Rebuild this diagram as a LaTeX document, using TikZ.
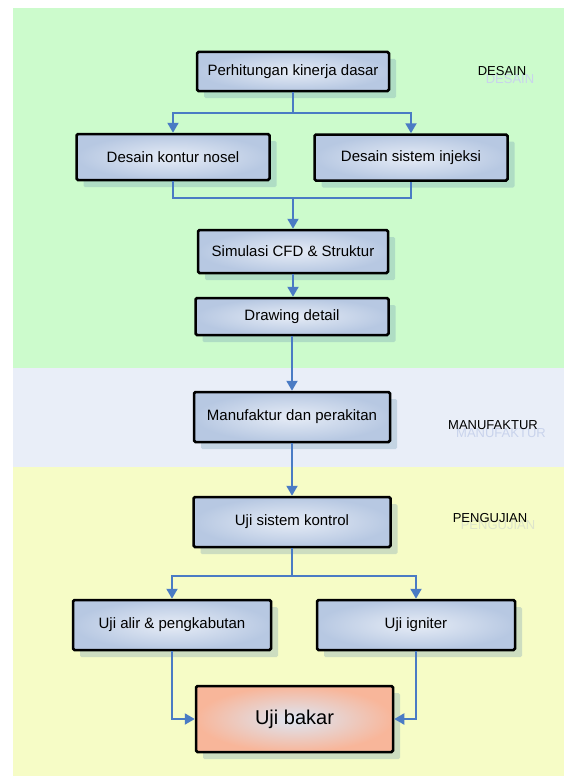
\documentclass[tikz,border=0pt]{standalone}
\usepackage{fontspec}
\setmainfont{Liberation Sans}
\usetikzlibrary{arrows.meta,shadows}
\definecolor{bandgreen}{HTML}{CCFBCC}
\definecolor{bandblue}{HTML}{E9EEF8}
\definecolor{bandyellow}{HTML}{F6FCC6}
\definecolor{boxblue}{HTML}{B7C8E2}
\definecolor{boxlight}{HTML}{E6ECF6}
\definecolor{boxsalmon}{HTML}{F8B69A}
\definecolor{salmonlight}{HTML}{DCE6F4}
\definecolor{linkblue}{HTML}{4A7BC4}
\definecolor{shadowc}{HTML}{6F98B4}
\definecolor{lblshadow}{HTML}{C9D3EC}
\definecolor{lblshadowy}{HTML}{DDE4CC}
\tikzset{
  x=1pt,y=-1pt,
  stepbox/.style={draw=black, line width=2.5pt, rounded corners=1.5pt,
    inner color=boxlight, outer color=boxblue, font=\fontsize{15}{17}\selectfont,
    general shadow={fill=shadowc, opacity=0.3, shadow xshift=7pt, shadow yshift=-7pt},
    inner sep=0pt, anchor=center},
  finalbox/.style={stepbox, inner color=salmonlight, outer color=boxsalmon,
    font=\fontsize{20}{22}\selectfont},
  link/.style={draw=linkblue, line width=2pt},
  arr/.style={link, -{Triangle[length=10pt,width=11pt]}},
  phase/.style={font=\fontsize{13}{15}\selectfont, text=black},
  phaseshadow/.style={font=\fontsize{13}{15}\selectfont},
}
\begin{document}
\begin{tikzpicture}
\useasboundingbox (0,0) rectangle (564,776);
% bands
\fill[bandgreen] (13,8) rectangle (564,368);
\fill[bandblue] (13,368) rectangle (564,467);
\fill[bandyellow] (13,467) rectangle (564,776);

% phase labels
\node[phaseshadow, text=lblshadow] at (510,79) {DESAIN};
\node[phase] (pd) at (502,71) {DESAIN};
\node[phaseshadow, text=lblshadow] at (501,433) {MANUFAKTUR};
\node[phase] (pm) at (493,425) {MANUFAKTUR};
\node[phaseshadow, text=lblshadowy] at (498,525) {PENGUJIAN};
\node[phase] (pp) at (490,518) {PENGUJIAN};

% boxes
\node[stepbox, minimum width=192pt, minimum height=39pt] (n1) at (293,71.5) {Perhitungan kinerja dasar};
\node[stepbox, minimum width=193pt, minimum height=46pt] (n2) at (173,157) {Desain kontur nosel};
\node[stepbox, minimum width=193pt, minimum height=46pt] (n3) at (411,157.5) {Desain sistem injeksi};
\node[stepbox, minimum width=190pt, minimum height=43pt] (n4) at (293,251.5) {Simulasi CFD \& Struktur};
\node[stepbox, minimum width=193pt, minimum height=37pt] (n5) at (292,316.5) {Drawing detail};
\node[stepbox, minimum width=196pt, minimum height=50pt] (n6) at (292,417) {Manufaktur dan perakitan};
\node[stepbox, minimum width=197pt, minimum height=50pt] (n7) at (292,522) {Uji sistem kontrol};
\node[stepbox, minimum width=198pt, minimum height=50pt] (n8) at (172,625) {Uji alir \& pengkabutan};
\node[stepbox, minimum width=198pt, minimum height=50pt] (n9) at (416,625) {Uji igniter};
\node[finalbox, minimum width=197pt, minimum height=66pt] (n10) at (294.5,719) {Uji bakar};

% junctions
\coordinate (j1) at (293,113);
\coordinate (j2) at (293,198);
\coordinate (j3) at (292,576);

% connectors
\draw[link] (n1.south) -- (j1);
\draw[arr] (j1) -| (n2.north);
\draw[arr] (j1) -| (n3.north);
\draw[link] (n2.south) |- (j2);
\draw[link] (n3.south) |- (j2);
\draw[arr] (j2) -- (n4.north);
\draw[arr] (n4.south) -- (n4.south |- n5.north);
\draw[arr] (n5.south) -- (n5.south |- n6.north);
\draw[arr] (n6.south) -- (n6.south |- n7.north);
\draw[link] (n7.south) -- (j3);
\draw[arr] (j3) -| (n8.north);
\draw[arr] (j3) -| (n9.north);
\draw[arr] (n8.south) |- (n10.west);
\draw[arr] (n9.south) |- (n10.east);
\end{tikzpicture}
\end{document}
